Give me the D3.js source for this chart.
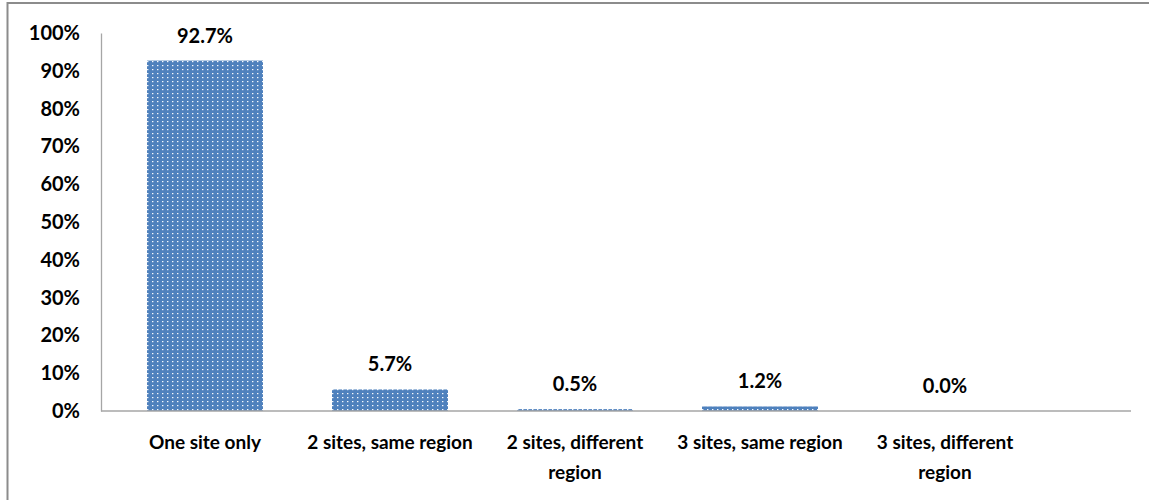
<!DOCTYPE html>
<html>
<head>
<meta charset="utf-8">
<script src="https://cdn.jsdelivr.net/npm/d3@7"></script>
<style>
  html, body { margin: 0; padding: 0; background: #fff; }
  svg { display: block; }
  text { font-family: Lato, "Open Sans", sans-serif; font-weight: bold; fill: #000; }
</style>
</head>
<body>
<svg id="chart" width="1149" height="500"></svg>
<script>
const categories = ["One site only", "2 sites, same region", "2 sites, different region", "3 sites, same region", "3 sites, different region"];
const values = [0.927, 0.057, 0.005, 0.012, 0.000];
const yTicks = [0, 0.1, 0.2, 0.3, 0.4, 0.5, 0.6, 0.7, 0.8, 0.9, 1.0];

const svg = d3.select("#chart");
const W = 1149, H = 500;

// outer frame
svg.append("rect").attr("x", 7.5).attr("y", 3).attr("width", W + 20).attr("height", H + 20)
  .attr("fill", "#fff").attr("stroke", "#8c8c8c").attr("stroke-width", 2);

const plot = { left: 101, right: 1131, top: 33, bottom: 411 };

const x = d3.scaleBand().domain(categories).range([112.5, 1037.5]).paddingInner(0.373).paddingOuter(0.1865);
const y = d3.scaleLinear().domain([0, 1]).range([plot.bottom, plot.top]);

// pattern
const defs = svg.append("defs");
const pat = defs.append("pattern").attr("id", "dots").attr("patternUnits", "userSpaceOnUse")
  .attr("width", 5).attr("height", 4);
pat.append("rect").attr("width", 5).attr("height", 4).attr("fill", "#4f81bd");
pat.append("rect").attr("x", 2).attr("y", 1).attr("width", 1.4).attr("height", 1.2).attr("fill", "#ffffff").attr("opacity", 0.95);

// bars
svg.append("g").selectAll("rect").data(categories).join("rect")
  .attr("x", d => x(d))
  .attr("width", x.bandwidth())
  .attr("y", (d, i) => y(values[i]))
  .attr("height", (d, i) => y(0) - y(values[i]))
  .attr("fill", "url(#dots)");

// y axis
const yAxis = d3.axisLeft(y).tickValues(yTicks).tickFormat(d3.format(".0%")).tickSize(0).tickPadding(21);
const gy = svg.append("g").attr("transform", `translate(${plot.left},0)`).call(yAxis);
gy.select(".domain").attr("stroke", "#a6a6a6").attr("stroke-width", 1.3);
gy.selectAll("text").attr("font-size", 20).style("font-family", "Lato, sans-serif").style("font-weight", "bold").attr("fill", "#000");

// x axis line
svg.append("line").attr("x1", plot.left).attr("x2", plot.right).attr("y1", y(0)).attr("y2", y(0))
  .attr("stroke", "#a6a6a6").attr("stroke-width", 1.6);

// x axis labels
const xAxis = d3.axisBottom(x).tickSize(0).tickPadding(0);
const gx = svg.append("g").attr("transform", `translate(0,${plot.bottom})`).call(xAxis);
gx.select(".domain").remove();
gx.selectAll("text").attr("font-size", 19).style("font-family", "Lato, sans-serif").style("font-weight", "bold")
  .attr("fill", "#000").attr("dy", null).attr("y", 0)
  .each(function(d) {
    const t = d3.select(this);
    t.text(null);
    const words = d.split(" ");
    const lines = [];
    let line = [];
    const tmp = t.append("tspan");
    words.forEach(w => {
      line.push(w);
      tmp.text(line.join(" "));
      if (tmp.node().getComputedTextLength() > 180 && line.length > 1) {
        line.pop();
        lines.push(line.join(" "));
        line = [w];
      }
    });
    lines.push(line.join(" "));
    tmp.remove();
    lines.forEach((l, i) => {
      t.append("tspan").attr("x", 0).attr("y", 38 + i * 30).text(l);
    });
  });

// data labels
svg.append("g").selectAll("text").data(categories).join("text")
  .attr("x", d => x(d) + x.bandwidth() / 2)
  .attr("y", (d, i) => y(values[i]) - 18)
  .attr("text-anchor", "middle")
  .attr("font-size", 20)
  .text((d, i) => d3.format(".1%")(values[i]));
</script>
</body>
</html>
